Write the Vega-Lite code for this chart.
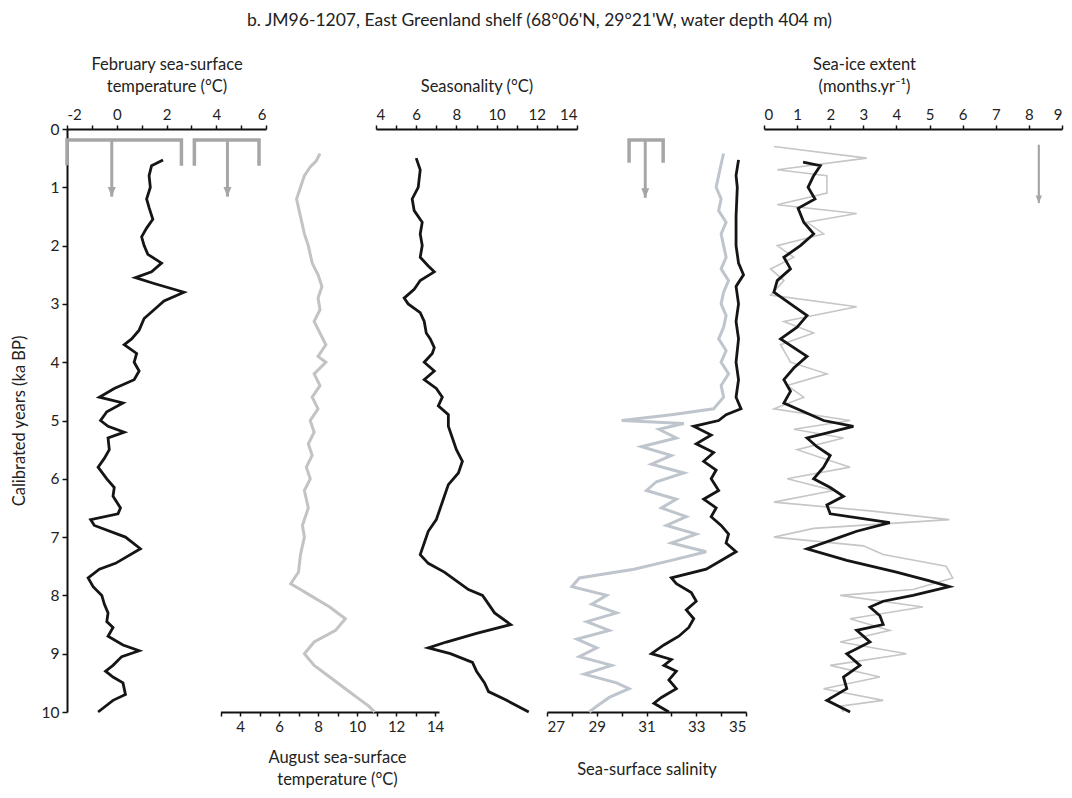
{
"$schema": "https://vega.github.io/schema/vega-lite/v6.json",
"width": 995, "height": 583, "autosize": "none",
"padding": {"left": 67, "top": 129, "right": 10, "bottom": 86},
"background": "white",
"title": {"text": "b. JM96-1207, East Greenland shelf (68°06'N, 29°21'W, water depth 404 m)", "fontSize": 17.5, "fontWeight": "normal", "font": "Lato", "color": "#222", "anchor": "middle", "frame": "group", "offset": 27, "dx": -25},
"config": {"font": "Lato", "view": {"stroke": null},
  "axis": {"grid": false, "domainColor": "#111", "domainWidth": 2, "tickColor": "#111", "tickWidth": 1.5, "tickSize": 4, "labelFontSize": 15, "labelColor": "#222", "titleFontSize": 16.5, "titleLineHeight": 22, "titleFontWeight": "normal", "titleColor": "#222", "labelFont": "Lato", "titleFont": "Lato", "labelPadding": 3}},
"datasets": {
 "feb": [{"ka":0.53,"v":1.86},{"ka":0.63,"v":1.4},{"ka":0.8,"v":1.3},{"ka":1.0,"v":1.35},{"ka":1.2,"v":1.2},{"ka":1.35,"v":1.3},{"ka":1.55,"v":1.45},{"ka":1.7,"v":1.2},{"ka":1.85,"v":1.0},{"ka":2.0,"v":1.1},{"ka":2.15,"v":1.25},{"ka":2.3,"v":1.8},{"ka":2.45,"v":1.4},{"ka":2.55,"v":0.75},{"ka":2.65,"v":1.5},{"ka":2.8,"v":2.7},{"ka":2.95,"v":1.9},{"ka":3.1,"v":1.5},{"ka":3.25,"v":1.1},{"ka":3.45,"v":0.9},{"ka":3.6,"v":0.6},{"ka":3.7,"v":0.3},{"ka":3.85,"v":0.8},{"ka":4.0,"v":0.7},{"ka":4.15,"v":0.9},{"ka":4.3,"v":0.7},{"ka":4.45,"v":-0.1},{"ka":4.6,"v":-0.7},{"ka":4.7,"v":0.25},{"ka":4.85,"v":-0.4},{"ka":5.0,"v":-0.65},{"ka":5.1,"v":-0.35},{"ka":5.2,"v":0.3},{"ka":5.3,"v":-0.35},{"ka":5.5,"v":-0.3},{"ka":5.65,"v":-0.5},{"ka":5.8,"v":-0.75},{"ka":6.0,"v":-0.4},{"ka":6.15,"v":-0.1},{"ka":6.3,"v":-0.15},{"ka":6.5,"v":0.15},{"ka":6.6,"v":0.05},{"ka":6.7,"v":-1.05},{"ka":6.8,"v":-0.9},{"ka":7.0,"v":0.35},{"ka":7.2,"v":0.95},{"ka":7.45,"v":-0.05},{"ka":7.55,"v":-0.7},{"ka":7.7,"v":-1.15},{"ka":7.85,"v":-0.95},{"ka":8.0,"v":-0.6},{"ka":8.15,"v":-0.5},{"ka":8.3,"v":-0.35},{"ka":8.45,"v":-0.4},{"ka":8.55,"v":-0.15},{"ka":8.7,"v":-0.35},{"ka":8.85,"v":0.25},{"ka":8.95,"v":0.9},{"ka":9.05,"v":0.2},{"ka":9.2,"v":-0.15},{"ka":9.3,"v":-0.45},{"ka":9.4,"v":-0.15},{"ka":9.5,"v":0.25},{"ka":9.7,"v":0.35},{"ka":9.8,"v":-0.15},{"ka":10.0,"v":-0.75}],
 "febModern": [{"g":"feb","o":1,"v":-2,"ka":0.62},{"g":"feb","o":2,"v":-2,"ka":0.19},{"g":"feb","o":3,"v":2.6,"ka":0.19},{"g":"feb","o":4,"v":2.6,"ka":0.63},{"g":"aug","o":1,"v":3.12,"ka":0.63},{"g":"aug","o":2,"v":3.12,"ka":0.19},{"g":"aug","o":3,"v":5.72,"ka":0.19},{"g":"aug","o":4,"v":5.72,"ka":0.63}],
 "febArrows": [{"v":-0.2,"top":0.19,"ka":1.16},{"v":4.45,"top":0.19,"ka":1.16}],
 "aug": [{"ka":0.42,"v":8.1},{"ka":0.55,"v":7.9},{"ka":0.65,"v":7.6},{"ka":0.8,"v":7.3},{"ka":1.0,"v":7.1},{"ka":1.2,"v":6.9},{"ka":1.5,"v":7.1},{"ka":1.8,"v":7.3},{"ka":2.0,"v":7.5},{"ka":2.3,"v":7.7},{"ka":2.5,"v":8.0},{"ka":2.7,"v":8.2},{"ka":2.9,"v":8.0},{"ka":3.1,"v":8.1},{"ka":3.3,"v":7.8},{"ka":3.5,"v":8.1},{"ka":3.7,"v":8.4},{"ka":3.9,"v":8.0},{"ka":4.0,"v":8.4},{"ka":4.2,"v":7.8},{"ka":4.4,"v":8.1},{"ka":4.6,"v":7.7},{"ka":4.8,"v":8.0},{"ka":5.0,"v":7.6},{"ka":5.2,"v":7.8},{"ka":5.4,"v":7.5},{"ka":5.6,"v":7.7},{"ka":5.8,"v":7.4},{"ka":6.0,"v":7.6},{"ka":6.2,"v":7.3},{"ka":6.5,"v":7.5},{"ka":6.8,"v":7.2},{"ka":7.0,"v":7.3},{"ka":7.3,"v":7.1},{"ka":7.6,"v":7.0},{"ka":7.8,"v":6.6},{"ka":7.9,"v":7.1},{"ka":8.0,"v":7.6},{"ka":8.2,"v":8.6},{"ka":8.4,"v":9.4},{"ka":8.6,"v":8.9},{"ka":8.8,"v":7.8},{"ka":9.0,"v":7.3},{"ka":9.2,"v":7.8},{"ka":9.4,"v":8.6},{"ka":9.6,"v":9.4},{"ka":9.8,"v":10.2},{"ka":9.9,"v":10.6},{"ka":10.0,"v":10.9}],
 "seas": [{"ka":0.5,"v":6.0},{"ka":0.7,"v":6.2},{"ka":1.0,"v":6.1},{"ka":1.2,"v":5.8},{"ka":1.4,"v":5.9},{"ka":1.6,"v":6.3},{"ka":1.8,"v":6.2},{"ka":2.0,"v":6.3},{"ka":2.2,"v":6.2},{"ka":2.35,"v":6.6},{"ka":2.45,"v":6.9},{"ka":2.6,"v":6.2},{"ka":2.75,"v":5.9},{"ka":2.9,"v":5.4},{"ka":3.0,"v":5.6},{"ka":3.15,"v":6.2},{"ka":3.3,"v":6.4},{"ka":3.5,"v":6.5},{"ka":3.6,"v":6.7},{"ka":3.75,"v":6.9},{"ka":3.85,"v":6.8},{"ka":4.0,"v":6.4},{"ka":4.15,"v":6.9},{"ka":4.3,"v":6.4},{"ka":4.45,"v":7.0},{"ka":4.6,"v":7.3},{"ka":4.75,"v":7.1},{"ka":4.9,"v":7.6},{"ka":5.1,"v":7.6},{"ka":5.3,"v":7.8},{"ka":5.5,"v":8.0},{"ka":5.7,"v":8.3},{"ka":5.9,"v":8.1},{"ka":6.1,"v":7.6},{"ka":6.3,"v":7.4},{"ka":6.5,"v":7.2},{"ka":6.7,"v":7.0},{"ka":6.9,"v":6.6},{"ka":7.1,"v":6.4},{"ka":7.3,"v":6.2},{"ka":7.45,"v":6.6},{"ka":7.6,"v":7.4},{"ka":7.75,"v":8.0},{"ka":7.9,"v":8.6},{"ka":8.0,"v":9.3},{"ka":8.15,"v":9.6},{"ka":8.3,"v":9.9},{"ka":8.5,"v":10.7},{"ka":8.65,"v":9.0},{"ka":8.8,"v":7.5},{"ka":8.9,"v":6.6},{"ka":9.0,"v":7.7},{"ka":9.15,"v":8.8},{"ka":9.3,"v":9.0},{"ka":9.5,"v":9.4},{"ka":9.65,"v":9.6},{"ka":9.8,"v":10.5},{"ka":10.0,"v":11.6}],
 "salModern": [{"o":1,"v":30.3,"ka":0.58},{"o":2,"v":30.3,"ka":0.19},{"o":3,"v":31.67,"ka":0.19},{"o":4,"v":31.67,"ka":0.58}],
 "salArrow": [{"v":30.95,"top":0.19,"ka":1.18}],
 "salGrey": [{"ka":0.42,"v":34.1},{"ka":0.6,"v":34.0},{"ka":0.8,"v":33.9},{"ka":1.0,"v":33.8},{"ka":1.2,"v":34.0},{"ka":1.4,"v":33.9},{"ka":1.6,"v":34.2},{"ka":1.8,"v":34.0},{"ka":2.0,"v":34.1},{"ka":2.2,"v":34.2},{"ka":2.4,"v":34.0},{"ka":2.6,"v":34.3},{"ka":2.8,"v":34.1},{"ka":3.0,"v":34.0},{"ka":3.2,"v":34.2},{"ka":3.4,"v":34.1},{"ka":3.6,"v":33.9},{"ka":3.8,"v":34.2},{"ka":4.0,"v":34.0},{"ka":4.2,"v":34.3},{"ka":4.4,"v":34.0},{"ka":4.6,"v":34.1},{"ka":4.8,"v":33.7},{"ka":4.9,"v":32.0},{"ka":5.0,"v":30.0},{"ka":5.05,"v":32.5},{"ka":5.15,"v":31.5},{"ka":5.3,"v":32.2},{"ka":5.45,"v":30.8},{"ka":5.6,"v":32.0},{"ka":5.75,"v":31.2},{"ka":5.9,"v":32.5},{"ka":6.05,"v":31.4},{"ka":6.2,"v":31.0},{"ka":6.35,"v":32.2},{"ka":6.5,"v":31.6},{"ka":6.65,"v":32.6},{"ka":6.8,"v":31.8},{"ka":6.95,"v":33.0},{"ka":7.1,"v":32.0},{"ka":7.25,"v":33.4},{"ka":7.4,"v":32.0},{"ka":7.55,"v":30.5},{"ka":7.7,"v":28.3},{"ka":7.85,"v":28.0},{"ka":8.0,"v":29.4},{"ka":8.15,"v":28.8},{"ka":8.3,"v":29.8},{"ka":8.45,"v":28.6},{"ka":8.6,"v":29.5},{"ka":8.75,"v":28.2},{"ka":8.9,"v":29.0},{"ka":9.05,"v":28.3},{"ka":9.2,"v":29.6},{"ka":9.35,"v":28.5},{"ka":9.5,"v":29.8},{"ka":9.6,"v":30.3},{"ka":9.75,"v":29.5},{"ka":9.9,"v":29.0},{"ka":10.0,"v":28.7}],
 "salBlack": [{"ka":0.53,"v":34.7},{"ka":0.8,"v":34.6},{"ka":1.0,"v":34.65},{"ka":1.5,"v":34.6},{"ka":2.0,"v":34.6},{"ka":2.3,"v":34.7},{"ka":2.5,"v":34.9},{"ka":2.7,"v":34.6},{"ka":3.0,"v":34.7},{"ka":3.3,"v":34.6},{"ka":3.6,"v":34.7},{"ka":4.0,"v":34.6},{"ka":4.3,"v":34.7},{"ka":4.6,"v":34.6},{"ka":4.8,"v":34.8},{"ka":4.9,"v":34.2},{"ka":5.0,"v":33.9},{"ka":5.1,"v":32.9},{"ka":5.25,"v":33.6},{"ka":5.4,"v":33.0},{"ka":5.55,"v":33.7},{"ka":5.7,"v":33.3},{"ka":5.85,"v":33.8},{"ka":6.0,"v":33.6},{"ka":6.2,"v":33.9},{"ka":6.35,"v":33.3},{"ka":6.5,"v":33.8},{"ka":6.65,"v":33.6},{"ka":6.8,"v":34.0},{"ka":6.95,"v":34.3},{"ka":7.1,"v":34.2},{"ka":7.25,"v":34.6},{"ka":7.4,"v":34.0},{"ka":7.55,"v":33.4},{"ka":7.7,"v":32.0},{"ka":7.8,"v":32.2},{"ka":7.95,"v":32.8},{"ka":8.1,"v":33.0},{"ka":8.25,"v":32.6},{"ka":8.4,"v":32.9},{"ka":8.55,"v":32.7},{"ka":8.7,"v":32.3},{"ka":8.85,"v":31.7},{"ka":9.0,"v":31.2},{"ka":9.1,"v":32.0},{"ka":9.2,"v":31.7},{"ka":9.3,"v":32.2},{"ka":9.45,"v":31.9},{"ka":9.6,"v":32.2},{"ka":9.75,"v":31.6},{"ka":9.85,"v":31.3},{"ka":10.0,"v":31.9}],
 "iceArrow": [{"v":8.3,"top":0.27,"ka":1.27}],
 "iceGrey": [{"ka":0.3,"v":0.3},{"ka":0.5,"v":3.1},{"ka":0.7,"v":0.4},{"ka":0.8,"v":1.9},{"ka":1.1,"v":1.9},{"ka":1.3,"v":0.4},{"ka":1.45,"v":2.8},{"ka":1.6,"v":1.3},{"ka":1.8,"v":1.8},{"ka":2.0,"v":0.4},{"ka":2.2,"v":0.9},{"ka":2.4,"v":0.2},{"ka":2.6,"v":0.6},{"ka":2.85,"v":0.2},{"ka":3.05,"v":2.8},{"ka":3.3,"v":0.6},{"ka":3.5,"v":1.5},{"ka":3.7,"v":0.5},{"ka":4.0,"v":0.8},{"ka":4.2,"v":1.9},{"ka":4.4,"v":0.7},{"ka":4.6,"v":1.2},{"ka":4.8,"v":0.3},{"ka":5.0,"v":2.6},{"ka":5.15,"v":0.9},{"ka":5.3,"v":2.4},{"ka":5.5,"v":1.0},{"ka":5.8,"v":2.6},{"ka":6.0,"v":0.7},{"ka":6.2,"v":2.1},{"ka":6.4,"v":0.3},{"ka":6.55,"v":3.2},{"ka":6.7,"v":5.6},{"ka":6.85,"v":1.5},{"ka":7.0,"v":0.3},{"ka":7.15,"v":3.0},{"ka":7.3,"v":3.6},{"ka":7.5,"v":5.5},{"ka":7.7,"v":5.7},{"ka":7.9,"v":4.5},{"ka":8.0,"v":2.3},{"ka":8.2,"v":4.8},{"ka":8.4,"v":2.6},{"ka":8.6,"v":3.8},{"ka":8.8,"v":2.3},{"ka":9.0,"v":4.3},{"ka":9.2,"v":2.0},{"ka":9.4,"v":3.5},{"ka":9.6,"v":1.8},{"ka":9.8,"v":3.6},{"ka":9.9,"v":2.3},{"ka":10.0,"v":2.4}],
 "iceBlack": [{"ka":0.57,"v":1.18},{"ka":0.63,"v":1.7},{"ka":0.8,"v":1.5},{"ka":1.0,"v":1.33},{"ka":1.2,"v":1.54},{"ka":1.36,"v":1.03},{"ka":1.6,"v":1.2},{"ka":1.8,"v":1.5},{"ka":2.0,"v":1.1},{"ka":2.2,"v":0.6},{"ka":2.4,"v":0.8},{"ka":2.6,"v":0.4},{"ka":2.8,"v":0.3},{"ka":3.0,"v":0.8},{"ka":3.2,"v":1.3},{"ka":3.4,"v":1.0},{"ka":3.6,"v":0.5},{"ka":3.9,"v":1.3},{"ka":4.1,"v":0.9},{"ka":4.3,"v":0.6},{"ka":4.5,"v":0.8},{"ka":4.7,"v":0.6},{"ka":4.85,"v":1.2},{"ka":5.0,"v":1.8},{"ka":5.1,"v":2.7},{"ka":5.3,"v":1.3},{"ka":5.45,"v":1.6},{"ka":5.6,"v":2.0},{"ka":5.8,"v":1.8},{"ka":6.0,"v":1.5},{"ka":6.15,"v":2.0},{"ka":6.3,"v":2.4},{"ka":6.45,"v":1.9},{"ka":6.6,"v":2.0},{"ka":6.75,"v":3.8},{"ka":6.9,"v":2.8},{"ka":7.0,"v":2.3},{"ka":7.2,"v":1.3},{"ka":7.4,"v":2.5},{"ka":7.6,"v":4.0},{"ka":7.75,"v":5.0},{"ka":7.85,"v":5.6},{"ka":8.0,"v":4.5},{"ka":8.1,"v":3.6},{"ka":8.2,"v":3.2},{"ka":8.35,"v":3.5},{"ka":8.5,"v":3.6},{"ka":8.6,"v":2.8},{"ka":8.8,"v":3.2},{"ka":9.0,"v":2.5},{"ka":9.2,"v":2.9},{"ka":9.4,"v":2.4},{"ka":9.6,"v":2.5},{"ka":9.8,"v":1.9},{"ka":10.0,"v":2.6}]
},
"encoding": {"y": {"field": "ka", "type": "quantitative", "scale": {"domain": [0, 10], "reverse": true, "nice": false, "zero": false}, "axis": {"values": [0,1,2,3,4,5,6,7,8,9,10], "title": "Calibrated years (ka BP)", "titlePadding": 14, "tickSize": 5, "labelFontSize": 15.5}}},
"resolve": {"scale": {"x": "independent"}, "axis": {"x": "independent"}},
"layer": [
 {"encoding": {"x": {"field": "v", "type": "quantitative", "scale": {"domain": [-2, 6], "range": [0, 199], "nice": false, "zero": false}, "axis": {"orient": "top", "values": [-2,-1,0,1,2,3,4,5,6], "labelExpr": "datum.value % 2 == 0 ? '' + datum.value : ''", "title": ["February sea-surface", "temperature (°C)"], "titlePadding": 13}}},
  "layer": [
   {"data": {"name": "febModern"}, "mark": {"type": "line", "color": "#a6a6a6", "strokeWidth": 3.5, "strokeJoin": "miter"}, "encoding": {"detail": {"field": "g"}, "order": {"field": "o"}}},
   {"data": {"name": "febArrows"}, "mark": {"type": "rule", "color": "#a6a6a6", "strokeWidth": 3}, "encoding": {"y2": {"field": "top"}}},
   {"data": {"name": "febArrows"}, "mark": {"type": "point", "shape": "M-1,-2.4L1,-2.4L0,0Z", "filled": true, "size": 64, "color": "#a6a6a6", "opacity": 1}},
   {"data": {"name": "feb"}, "mark": {"type": "line", "color": "#151515", "strokeWidth": 2.8}, "encoding": {"order": {"field": "ka"}}}
  ]},
 {"data": {"name": "aug"}, "mark": {"type": "line", "color": "#c3c3c3", "strokeWidth": 3},
  "encoding": {"x": {"field": "v", "type": "quantitative", "scale": {"domain": [3, 14.2], "range": [153.5, 372], "nice": false, "zero": false}, "axis": {"orient": "bottom", "values": [3,4,5,6,7,8,9,10,11,12,13,14], "labelExpr": "datum.value % 2 == 0 ? datum.label : ''", "title": ["August sea-surface", "temperature (°C)"], "titleX": 270, "titlePadding": 15}}, "order": {"field": "ka"}}},
 {"data": {"name": "seas"}, "mark": {"type": "line", "color": "#151515", "strokeWidth": 2.8},
  "encoding": {"x": {"field": "v", "type": "quantitative", "scale": {"domain": [4, 14], "range": [309, 510], "nice": false, "zero": false}, "axis": {"orient": "top", "values": [4,5,6,7,8,9,10,11,12,13,14], "labelExpr": "datum.value % 2 == 0 ? datum.label : ''", "title": "Seasonality (°C)", "titlePadding": 13}}, "order": {"field": "ka"}}},
 {"encoding": {"x": {"field": "v", "type": "quantitative", "scale": {"domain": [27, 35], "range": [480, 679], "nice": false, "zero": false}, "axis": {"orient": "bottom", "values": [27,28,29,30,31,32,33,34,35], "labelExpr": "datum.value % 2 == 1 ? datum.label : ''", "title": "Sea-surface salinity", "titlePadding": 27}}},
  "layer": [
   {"data": {"name": "salModern"}, "mark": {"type": "line", "color": "#a6a6a6", "strokeWidth": 3.5, "strokeJoin": "miter"}, "encoding": {"order": {"field": "o"}}},
   {"data": {"name": "salArrow"}, "mark": {"type": "rule", "color": "#a6a6a6", "strokeWidth": 3}, "encoding": {"y2": {"field": "top"}}},
   {"data": {"name": "salArrow"}, "mark": {"type": "point", "shape": "M-1,-2.4L1,-2.4L0,0Z", "filled": true, "size": 64, "color": "#a6a6a6", "opacity": 1}},
   {"data": {"name": "salGrey"}, "mark": {"type": "line", "color": "#bfc5cd", "strokeWidth": 3}, "encoding": {"order": {"field": "ka"}}},
   {"data": {"name": "salBlack"}, "mark": {"type": "line", "color": "#151515", "strokeWidth": 2.8}, "encoding": {"order": {"field": "ka"}}}
  ]},
 {"encoding": {"x": {"field": "v", "type": "quantitative", "scale": {"domain": [0, 9], "range": [697, 995], "nice": false, "zero": false}, "axis": {"orient": "top", "values": [0,1,2,3,4,5,6,7,8,9], "title": ["Sea-ice extent", "(months.yr⁻¹)"], "titleX": 797, "titlePadding": 13}}},
  "layer": [
   {"data": {"name": "iceArrow"}, "mark": {"type": "rule", "color": "#a6a6a6", "strokeWidth": 2.2}, "encoding": {"y2": {"field": "top"}}},
   {"data": {"name": "iceArrow"}, "mark": {"type": "point", "shape": "M-1,-2.4L1,-2.4L0,0Z", "filled": true, "size": 40, "color": "#a6a6a6", "opacity": 1}},
   {"data": {"name": "iceGrey"}, "mark": {"type": "line", "color": "#c6c6c6", "strokeWidth": 1.6}, "encoding": {"order": {"field": "ka"}}},
   {"data": {"name": "iceBlack"}, "mark": {"type": "line", "color": "#151515", "strokeWidth": 2.8}, "encoding": {"order": {"field": "ka"}}}
  ]}
]
}
